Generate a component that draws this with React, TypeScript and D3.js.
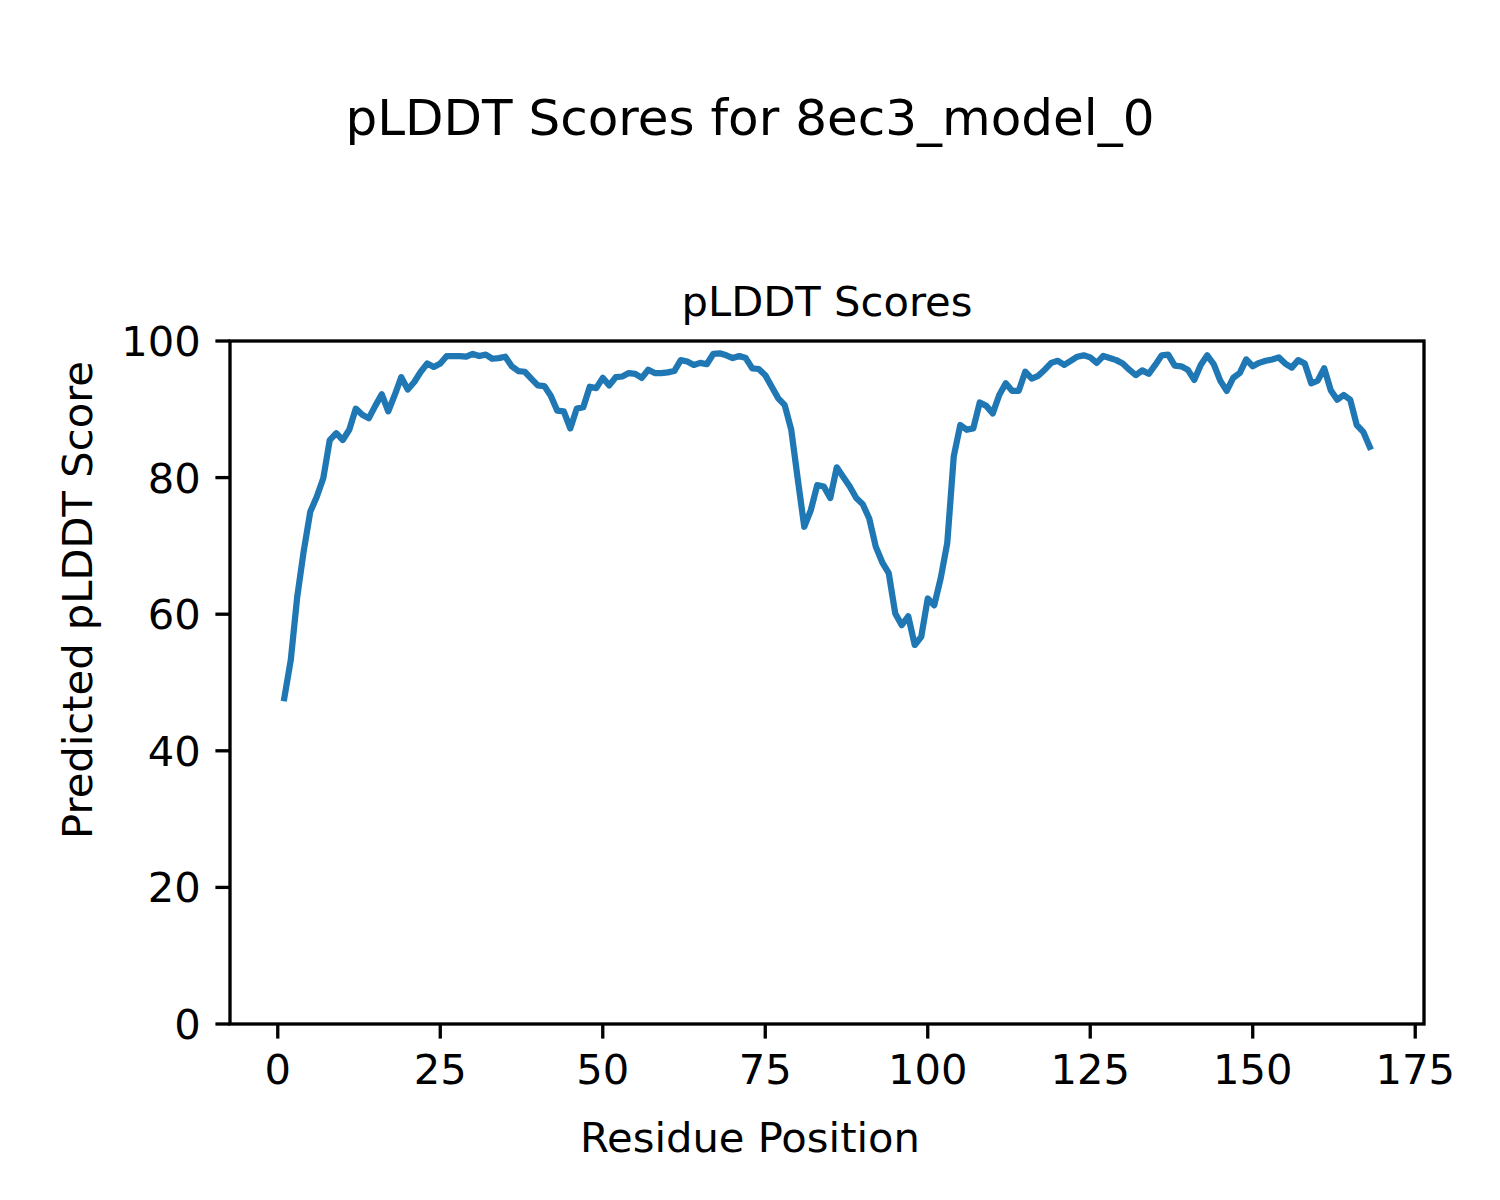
import React from "react";
import * as d3 from "d3";

const residues: number[] = Array.from({ length: 168 }, (_, i) => i + 1);
const plddt: number[] = [
  47.7, 53.3, 62.6, 69.3, 75.0, 77.2, 79.9, 85.5, 86.5, 85.5,
  87.0, 90.1, 89.2, 88.7, 90.5, 92.2, 89.7, 92.1, 94.7, 92.9,
  94.0, 95.5, 96.7, 96.2, 96.7, 97.8, 97.8, 97.8, 97.7, 98.1,
  97.8, 98.0, 97.4, 97.5, 97.7, 96.3, 95.6, 95.5, 94.5, 93.5,
  93.4, 92.0, 89.8, 89.7, 87.2, 90.1, 90.3, 93.3, 93.1, 94.6,
  93.5, 94.7, 94.8, 95.3, 95.2, 94.6, 95.8, 95.3, 95.3, 95.4,
  95.6, 97.2, 97.0, 96.5, 96.8, 96.6, 98.1, 98.2, 97.9, 97.5,
  97.8, 97.5, 96.0, 95.9, 95.0, 93.3, 91.6, 90.6, 87.0, 79.8,
  72.8, 75.2, 78.9, 78.7, 77.0, 81.5, 80.1, 78.7, 77.0, 76.1,
  74.0, 69.9, 67.6, 66.0, 60.1, 58.4, 59.7, 55.5, 56.7, 62.3,
  61.3, 65.3, 70.4, 83.1, 87.7, 87.0, 87.2, 91.0, 90.5, 89.4,
  92.1, 93.8, 92.7, 92.7, 95.5, 94.5, 94.9, 95.8, 96.8, 97.1,
  96.5, 97.1, 97.7, 97.9, 97.6, 96.8, 97.8, 97.5, 97.2, 96.7,
  95.8, 95.0, 95.7, 95.2, 96.5, 97.9, 98.0, 96.4, 96.3, 95.8,
  94.3, 96.5, 97.9, 96.6, 94.2, 92.7, 94.6, 95.3, 97.3, 96.3,
  96.8, 97.1, 97.3, 97.6, 96.7, 96.1, 97.2, 96.7, 93.8, 94.2,
  96.0, 92.8, 91.4, 92.1, 91.4, 87.7, 86.7, 84.5,
];
const xTicks: number[] = [0, 25, 50, 75, 100, 125, 150, 175];
const yTicks: number[] = [0, 20, 40, 60, 80, 100];

const figTitle = "pLDDT Scores for 8ec3_model_0";
const axTitle = "pLDDT Scores";
const xLabel = "Residue Position";
const yLabel = "Predicted pLDDT Score";

export default function App() {
  const W = 1500;
  const H = 1200;
  const left = 230;
  const right = 1424;
  const top = 341;
  const bottom = 1024;
  const font = "'DejaVu Sans', sans-serif";

  const xMin = 1, xMax = 168;
  const pad = (xMax - xMin) * 0.05;
  const x = d3.scaleLinear().domain([xMin - pad, xMax + pad]).range([left, right]);
  const y = d3.scaleLinear().domain([0, 100]).range([bottom, top]);

  const line = d3
    .line<number>()
    .x((_, i) => x(residues[i]))
    .y((d) => y(d));

  const tickLen = 14.6;
  const tickPad = 14.6;
  const fs = 41.67;

  return (
    <svg
      width={W}
      height={H}
      style={{ position: "absolute", left: 0, top: 0, background: "#fff" }}
      fontFamily={font}
    >
      <rect x={0} y={0} width={W} height={H} fill="#fff" />
      <text x={750} y={135} fontSize={50} textAnchor="middle" fill="#000">
        {figTitle}
      </text>
      <text x={(left + right) / 2} y={316} fontSize={fs} textAnchor="middle" fill="#000">
        {axTitle}
      </text>
      <defs>
        <clipPath id="clip">
          <rect x={left} y={top} width={right - left} height={bottom - top} />
        </clipPath>
      </defs>
      <path
        d={line(plddt) || ""}
        fill="none"
        stroke="#1f77b4"
        strokeWidth={6.25}
        strokeLinejoin="round"
        strokeLinecap="square"
        clipPath="url(#clip)"
      />
      <rect
        x={left}
        y={top}
        width={right - left}
        height={bottom - top}
        fill="none"
        stroke="#000"
        strokeWidth={3.33}
      />
      {xTicks.map((t) => (
        <g key={"x" + t}>
          <line x1={x(t)} x2={x(t)} y1={bottom} y2={bottom + tickLen} stroke="#000" strokeWidth={3.33} />
          <text x={x(t)} y={bottom + tickLen + tickPad + 31} fontSize={fs} textAnchor="middle" fill="#000">
            {t}
          </text>
        </g>
      ))}
      {yTicks.map((t) => (
        <g key={"y" + t}>
          <line x1={left - tickLen} x2={left} y1={y(t)} y2={y(t)} stroke="#000" strokeWidth={3.33} />
          <text x={left - tickLen - tickPad} y={y(t)} dy="0.36em" fontSize={fs} textAnchor="end" fill="#000">
            {t}
          </text>
        </g>
      ))}
      <text x={750} y={1152} fontSize={fs} textAnchor="middle" fill="#000">
        {xLabel}
      </text>
      <text
        transform={`translate(92, 600) rotate(-90)`}
        fontSize={fs}
        textAnchor="middle"
        fill="#000"
      >
        {yLabel}
      </text>
    </svg>
  );
}
